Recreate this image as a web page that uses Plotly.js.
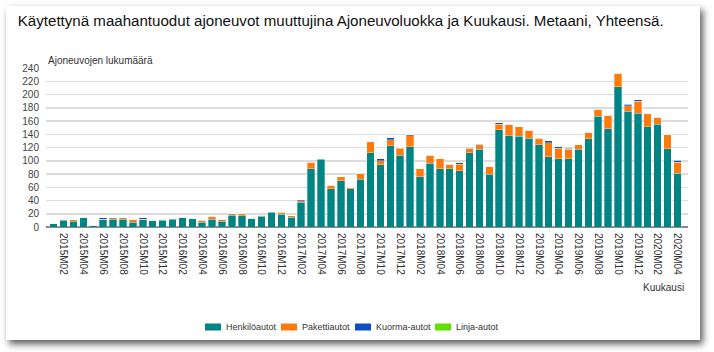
<!DOCTYPE html>
<html>
<head>
<meta charset="utf-8">
<script src="https://cdn.plot.ly/plotly-3.0.1.min.js"></script>
<style>
html,body{margin:0;padding:0;background:#fff;width:714px;height:352px;overflow:hidden;}
#frame{position:absolute;left:6px;top:6px;width:694px;height:334px;background:#fff;box-shadow:3px 4px 7px rgba(0,0,0,0.65);}
#chart{width:694px;height:334px;}
</style>
</head>
<body>
<div id="frame"><div id="chart"></div></div>
<script>
const months = [
 "2015M01","2015M02","2015M03","2015M04","2015M05","2015M06","2015M07","2015M08","2015M09","2015M10","2015M11","2015M12",
 "2016M01","2016M02","2016M03","2016M04","2016M05","2016M06","2016M07","2016M08","2016M09","2016M10","2016M11","2016M12",
 "2017M01","2017M02","2017M03","2017M04","2017M05","2017M06","2017M07","2017M08","2017M09","2017M10","2017M11","2017M12",
 "2018M01","2018M02","2018M03","2018M04","2018M05","2018M06","2018M07","2018M08","2018M09","2018M10","2018M11","2018M12",
 "2019M01","2019M02","2019M03","2019M04","2019M05","2019M06","2019M07","2019M08","2019M09","2019M10","2019M11","2019M12",
 "2020M01","2020M02","2020M03","2020M04"];

const henkiloautot = [6,10,9,14,3,12,12,12,7,11,10,10,
 12,14,13,7,12,9,18,17,13,16,22,19,
 15,37,88,102,58,70,58,72,112,94,123,108,
 121,76,96,88,88,85,112,117,80,147,138,137,
 134,124,106,103,103,117,133,167,148,212,175,172,
 151,155,118,81];
const pakettiautot = [0,2,2,0,0,0,2,2,4,1,0,2,
 1,1,0,3,4,3,2,3,0,2,1,3,
 2,3,10,1,5,6,2,9,17,6,9,11,
 17,12,12,15,7,10,6,7,11,8,17,14,
 12,10,21,16,14,7,10,11,21,20,8,18,
 20,11,21,17];
const kuormaautot = [0,0,0,0,0,2,0,0,0,2,0,0,
 0,0,0,0,0,0,0,0,0,0,0,0,
 0,1,0,0,0,0,0,0,0,3,3,1,
 1,0,0,0,0,2,1,1,0,2,0,0,
 0,0,3,2,2,0,0,0,0,0,2,2,
 0,0,0,3];
const linjaautot = [0,0,0,0,0,0,0,0,0,0,0,0,
 0,0,0,0,0,0,0,0,0,0,0,0,
 0,0,0,0,0,0,0,0,0,0,0,0,
 0,0,0,0,0,0,0,0,0,0,0,0,
 0,0,0,0,0,0,0,0,0,0,0,0,
 0,0,0,0];

const tickLabels = ["2015M02","2015M04","2015M06","2015M08","2015M10","2015M12",
 "2016M02","2016M04","2016M06","2016M08","2016M10","2016M12",
 "2017M02","2017M04","2017M06","2017M08","2017M10","2017M12",
 "2018M02","2018M04","2018M06","2018M08","2018M10","2018M12",
 "2019M02","2019M04","2019M06","2019M08","2019M10","2019M12",
 "2020M02","2020M04"];

const seriesNames = ["Henkilöautot","Pakettiautot","Kuorma-autot","Linja-autot"];
const seriesColors = ["#008584","#ff7a0a","#0c4fc2","#5ee000"];
const seriesData = [henkiloautot, pakettiautot, kuormaautot, linjaautot];

const traces = seriesData.map((vals,i)=>({
  type:"bar", x: months, y: vals, name: seriesNames[i],
  marker:{color: seriesColors[i], line:{color:"rgba(255,255,255,0.6)", width:0.5}},
  hoverinfo:"x+y+name"
}));

// layout geometry (chart div coordinates)
const M = {l:40, r:12, t:62, b:113}, W = 694, H = 334;
const pw = W - M.l - M.r, ph = H - M.t - M.b;
const px = x => (x - M.l) / pw;          // div px -> paper x
const py = y => (H - M.b - y) / ph;       // div px -> paper y

// custom legend (div pixel positions of swatches)
const legendX = [199, 275, 349, 429];
const legendY = 321;
const shapes = [], annotations = [];
seriesNames.forEach((n,i)=>{
  shapes.push({type:"rect", xref:"paper", yref:"paper",
    x0:px(legendX[i]), x1:px(legendX[i]+16), y0:py(legendY+3.5), y1:py(legendY-3.5),
    fillcolor:seriesColors[i], line:{width:0}});
  annotations.push({text:n, xref:"paper", yref:"paper", x:px(legendX[i]+19), y:py(legendY),
    xanchor:"left", yanchor:"middle", showarrow:false, font:{size:9, color:"#333"}});
});
annotations.push(
  {text:"Ajoneuvojen lukumäärä", xref:"paper", yref:"paper", x:0, y:1, xanchor:"left", yanchor:"bottom",
   showarrow:false, font:{size:10, color:"#333"}},
  {text:"Kuukausi", xref:"paper", yref:"paper", x:px(680), y:py(281), xanchor:"right", yanchor:"middle",
   showarrow:false, font:{size:10, color:"#333"}}
);

const layout = {
  width:W, height:H, margin:M,
  paper_bgcolor:"#fff", plot_bgcolor:"#fff",
  barmode:"stack", bargap:0.24,
  font:{family:"Liberation Sans, Arial, sans-serif", size:10, color:"#333"},
  title:{text:"Käytettynä maahantuodut ajoneuvot muuttujina Ajoneuvoluokka ja Kuukausi. Metaani, Yhteensä.",
    font:{size:15.1, color:"#111", family:"Liberation Sans, Arial, sans-serif"},
    xref:"container", x:0.017, xanchor:"left", yref:"container", y:0.955, yanchor:"middle"},
  xaxis:{type:"category", range:[-0.78, 64.07], tickmode:"array", tickvals:tickLabels, ticktext:tickLabels,
    tickangle:90, ticks:"outside", ticklen:3, tickcolor:"rgba(0,0,0,0)", showgrid:false, showline:false, zeroline:false,
    tickfont:{size:10, color:"#333"}, fixedrange:true, automargin:false},
  yaxis:{range:[0,240], dtick:20, showgrid:true, gridcolor:"#dcdcdc", gridwidth:1.5,
    zeroline:true, zerolinecolor:"#8a8a8a", zerolinewidth:2, showline:false,
    ticks:"outside", ticklen:4, tickcolor:"rgba(0,0,0,0)", tickfont:{size:10, color:"#444"}, fixedrange:true, automargin:false},
  showlegend:false,
  shapes: shapes,
  annotations: annotations
};

Plotly.newPlot("chart", traces, layout, {displayModeBar:false, staticPlot:true});
</script>
</body>
</html>
